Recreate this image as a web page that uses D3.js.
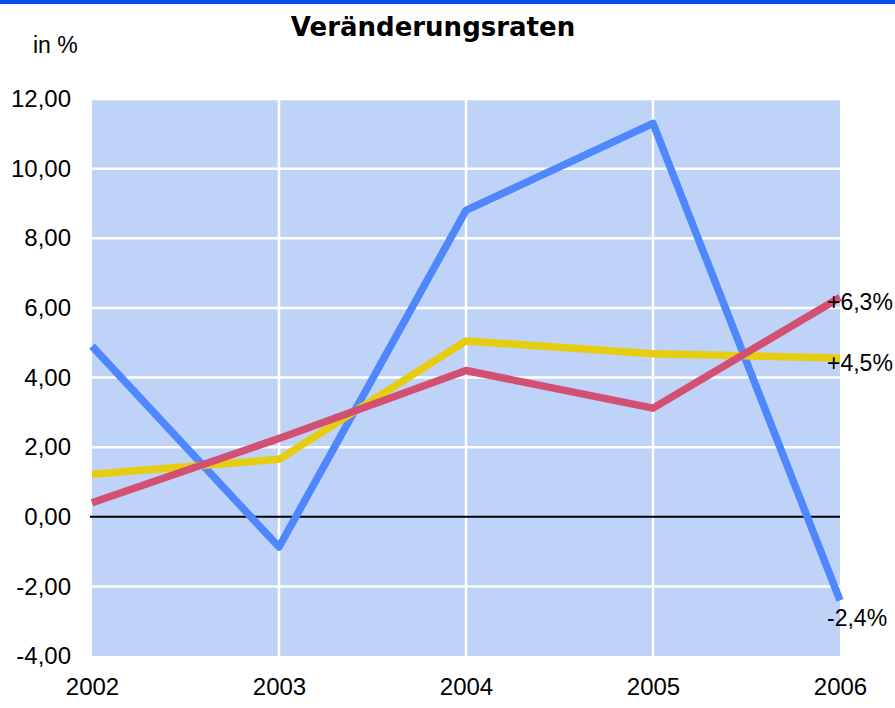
<!DOCTYPE html>
<html>
<head>
<meta charset="utf-8">
<script src="https://cdn.jsdelivr.net/npm/d3@7"></script>
<style>
  body { margin: 0; background: #fff; }
  text { fill: #000; }
</style>
</head>
<body>
<svg id="chart"></svg>
<script>
var years = [2002, 2003, 2004, 2005, 2006];
var blueValues = [4.9, -0.87, 8.8, 11.3, -2.4];
var yellowValues = [1.22, 1.65, 5.05, 4.68, 4.56];
var redValues = [0.4, 2.25, 4.2, 3.12, 6.3];
var endLabels = ["-2,4%", "+4,5%", "+6,3%"];
var yTicks = [-4, -2, 0, 2, 4, 6, 8, 10, 12];

var width = 895, height = 708;
var margins = { top: 99, bottom: 52, left: 92, right: 55 };

var svg = d3.select("#chart")
  .attr("width", width)
  .attr("height", height)

var xScale = d3.scalePoint()
  .domain(years)
  .range([margins.left, width - margins.right])

var yScale = d3.scaleLinear()
  .domain([-4, 12])
  .range([height - margins.bottom, margins.top])

// top border
svg.append("rect")
  .attr("x", 0).attr("y", 0)
  .attr("width", width).attr("height", 4)
  .attr("fill", "#0050e6")

// plot background
svg.append("rect")
  .attr("x", margins.left)
  .attr("y", yScale(12))
  .attr("width", xScale(2006) - margins.left)
  .attr("height", yScale(-4) - yScale(12))
  .attr("fill", "#bfd3f8")

// grid
svg.append("g")
  .selectAll("line")
  .data(yTicks.filter(function(d){return d != 0 && d != -4;}))
  .enter()
  .append("line")
  .attr("x1", margins.left)
  .attr("x2", xScale(2006))
  .attr("y1", function(d){return yScale(d);})
  .attr("y2", function(d){return yScale(d);})
  .attr("stroke", "#fff")
  .attr("stroke-width", 2.5)

svg.append("g")
  .selectAll("line")
  .data(years.slice(1, 4))
  .enter()
  .append("line")
  .attr("x1", function(d){return xScale(d);})
  .attr("x2", function(d){return xScale(d);})
  .attr("y1", yScale(12))
  .attr("y2", yScale(-4))
  .attr("stroke", "#fff")
  .attr("stroke-width", 2.5)

// zero line
svg.append("line")
  .attr("x1", margins.left - 2)
  .attr("x2", xScale(2006))
  .attr("y1", yScale(0))
  .attr("y2", yScale(0))
  .attr("stroke", "#000")
  .attr("stroke-width", 2)

// axes (labels only)
var yAxis = d3.axisLeft(yScale)
  .tickValues(yTicks)
  .tickSize(0)
  .tickPadding(0)
  .tickFormat(function(d){return d.toFixed(2).replace(".", ",");})

var yG = svg.append("g")
  .attr("transform", "translate(" + (margins.left - 21) + ",0)")
  .call(yAxis)
yG.select(".domain").remove()
yG.selectAll("text")
  .attr("font-family", "'Liberation Sans Narrow', 'Liberation Sans', sans-serif")
  .attr("font-size", 24)
  .attr("fill", "#000")

var xAxis = d3.axisBottom(xScale)
  .tickSize(0)
  .tickPadding(0)
  .tickFormat(d3.format("d"))

var xG = svg.append("g")
  .attr("transform", "translate(0," + (yScale(-4) + 22) + ")")
  .call(xAxis)
xG.select(".domain").remove()
xG.selectAll("text")
  .attr("font-family", "'Liberation Sans Narrow', 'Liberation Sans', sans-serif")
  .attr("font-size", 24)
  .attr("fill", "#000")

// lines
var drawLine = d3.line()
  .x(function(d, i){return xScale(years[i]);})
  .y(function(d){return yScale(d);})

var series = [
  { values: blueValues, color: "#4f87fd", label: endLabels[0] },
  { values: yellowValues, color: "#e6cd0f", label: endLabels[1] },
  { values: redValues, color: "#d35073", label: endLabels[2] }
]

svg.append("g")
  .selectAll("path")
  .data(series)
  .enter()
  .append("path")
  .attr("d", function(d){return drawLine(d.values);})
  .attr("fill", "none")
  .attr("stroke", function(d){return d.color;})
  .attr("stroke-width", 7.5)
  .attr("stroke-linejoin", "round")

// end labels
svg.append("g")
  .selectAll("text")
  .data(series)
  .enter()
  .append("text")
  .attr("x", xScale(2006) - 13)
  .attr("y", function(d){
    var v = d.values[d.values.length - 1];
    return yScale(v) + (v < 0 ? 18 : 5);
  })
  .attr("dy", "0.35em")
  .attr("font-family", "'Liberation Sans Narrow', 'Liberation Sans', sans-serif")
  .attr("font-size", 23)
  .text(function(d){return d.label;})

// title
svg.append("text")
  .attr("x", 433)
  .attr("y", 36)
  .attr("text-anchor", "middle")
  .attr("font-family", "'DejaVu Sans', sans-serif")
  .attr("font-weight", "bold")
  .attr("font-size", 26)
  .text("Veränderungsraten")

svg.append("text")
  .attr("x", 33)
  .attr("y", 53)
  .attr("font-family", "'Liberation Sans Narrow', 'Liberation Sans', sans-serif")
  .attr("font-size", 23)
  .text("in %")
</script>
</body>
</html>
